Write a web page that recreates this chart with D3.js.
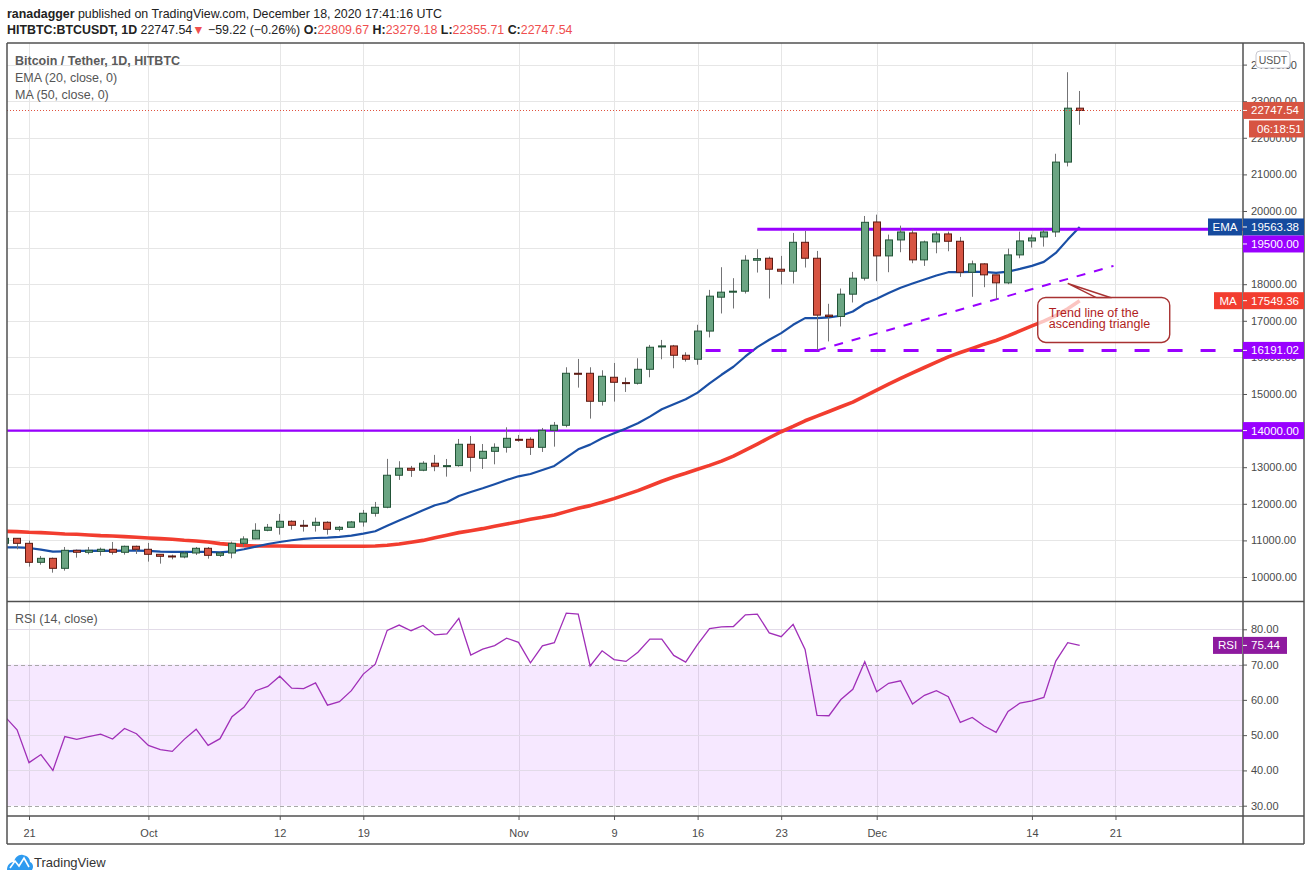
<!doctype html>
<html lang="en">
<head>
<meta charset="UTF-8">
<title>BTCUSDT 1D</title>
<script src="https://d3js.org/d3.v7.min.js"></script>
<style>
  body { margin: 0; background: #fff; }
  text { font-family: "Liberation Sans", Arial, sans-serif; }
</style>
</head>
<body>
<div id="chart-area"></div>

<script>

// daily candles, first one is 2020-09-19
const firstDay = '2020-09-19';

const open = [10920, 11057, 10920, 10401, 10510, 10237, 10729, 10675, 10702, 10757, 10675, 10839,
    10757, 10620, 10574, 10547, 10656, 10784, 10592, 10656, 10920, 11039,
    11276, 11358, 11522, 11413, 11413, 11495, 11303, 11358, 11504, 11741,
    11905, 12780, 12971, 12917, 13108, 13025, 13043, 13626, 13243, 13434, 13543,
    13762, 13762, 13543, 14008, 14145, 15566, 15566, 14801, 15457, 15311,
    15293, 15675, 16286, 16313, 16058, 15949, 16719, 17645, 17782, 17809,
    18655, 18709, 18409, 18355, 19145, 18709, 17155, 17118, 17727, 18164,
    19700, 18773, 19209, 19400, 18664, 19155, 19373, 19173, 18327, 18555,
    18255, 18036, 18800, 19182, 19291, 19427, 21336, 22809.67];

const high = [11110, 11065, 10994, 10574, 10530, 10820, 10750, 10820, 10802, 10957, 10857, 10857,
    10930, 10620, 10610, 10693, 10820, 10820, 10684, 10966, 11112, 11468,
    11449, 11723, 11549, 11558, 11622, 11522, 11394, 11531, 11832, 12051,
    13227, 13163, 13035, 13163, 13336, 13225, 13771, 13853, 13634, 13652, 14090,
    13880, 13816, 14072, 14236, 15730, 15958, 15730, 15648, 15848, 15448,
    15976, 16341, 16477, 16341, 16140, 16891, 17845, 18464, 18164, 18791,
    18955, 18755, 18773, 19400, 19454, 18909, 17464, 17882, 18336, 19864,
    19900, 19355, 19600, 19509, 19191, 19436, 19436, 19291, 18645, 18573,
    18255, 18973, 19436, 19355, 19500, 21564, 23791, 23279.18];

const low = [10880, 10757, 10283, 10337, 10118, 10173, 10529, 10620, 10583, 10611, 10611, 10629,
    10420, 10365, 10483, 10510, 10602, 10501, 10547, 10510, 10820, 11030,
    11249, 11158, 11294, 11240, 11240, 11158, 11249, 11358, 11376, 11650,
    11878, 12653, 12735, 12890, 12890, 12742, 13015, 12879, 12952, 13079, 13398,
    13698, 13334, 13416, 13561, 14090, 15174, 14327, 14683, 14792, 15056,
    15257, 15457, 15949, 15703, 15885, 15800, 16546, 17200, 17336, 17745,
    18318, 17609, 17991, 18018, 18455, 16191, 16437, 16845, 17500, 18100,
    18082, 18327, 18873, 18573, 18500, 18845, 18900, 18200, 17655, 17918,
    17582, 18000, 18709, 19000, 19027, 19291, 21218, 22355.71];

const close = [11057, 10920, 10401, 10510, 10237, 10729, 10675, 10729, 10757, 10675, 10839, 10757,
    10620, 10565, 10547, 10656, 10784, 10592, 10656, 10920, 11039, 11276,
    11358, 11522, 11413, 11404, 11495, 11303, 11358, 11504, 11741, 11905,
    12780, 12971, 12917, 13108, 13026, 13043, 13626, 13270, 13434, 13543, 13789,
    13735, 13543, 14008, 14145, 15566, 15557, 14801, 15484, 15320, 15293,
    15675, 16277, 16313, 16058, 15949, 16719, 17673, 17782, 17809, 18655,
    18700, 18409, 18355, 19145, 18709, 17155, 17118, 17727, 18164, 19691,
    18773, 19209, 19427, 18664, 19155, 19373, 19173, 18327, 18555, 18255,
    18036, 18800, 19182, 19264, 19427, 21336, 22809, 22747.54];

const ema20 = [10811, 10811, 10793, 10747, 10693, 10702, 10711, 10711, 10720, 10711, 10720, 10720,
    10711, 10693, 10684, 10684, 10684, 10684, 10675, 10702, 10757, 10829,
    10902, 10957, 11003, 11039, 11066, 11076, 11094, 11130, 11185, 11249,
    11400, 11545, 11680, 11822, 11960, 12041, 12214, 12323, 12423, 12533, 12651,
    12751, 12815, 12924, 13034, 13260, 13489, 13617, 13790, 13926, 14054,
    14200, 14382, 14582, 14719, 14856, 15038, 15290, 15525, 15745, 16025,
    16282, 16482, 16664, 16891, 17073, 17073, 17091, 17137, 17255, 17465,
    17605, 17760, 17905, 18018, 18127, 18236, 18327, 18327, 18336, 18336,
    18309, 18345, 18418, 18500, 18609, 18855, 19218, 19563.38];

const ma50 = [11249, 11240, 11221, 11212, 11194, 11176, 11167, 11148, 11130, 11121, 11103, 11085,
    11066, 11048, 11030, 11003, 10984, 10957, 10912, 10884, 10857, 10848,
    10848, 10845, 10842, 10840, 10839, 10839, 10839, 10839, 10839, 10848,
    10866, 10902, 10948, 11000, 11070, 11140, 11212, 11266, 11321, 11385, 11448,
    11512, 11576, 11631, 11694, 11786, 11877, 11950, 12041, 12141, 12250,
    12359, 12487, 12615, 12733, 12833, 12942, 13050, 13167, 13303, 13467,
    13631, 13804, 13968, 14113, 14268, 14395, 14523, 14650, 14778, 14941,
    15105, 15269, 15424, 15578, 15724, 15870, 16015, 16133, 16243, 16361,
    16461, 16588, 16725, 16861, 16989, 17140, 17330, 17549.36];

const rsi14 = [55.2, 51.5, 42.2, 44.5, 40.0, 49.6, 48.8, 49.6, 50.3, 48.9, 51.9, 50.4,
    47.1, 45.9, 45.4, 48.8, 51.7, 47.1, 49.0, 55.2, 57.9, 62.6,
    63.8, 66.7, 63.3, 63.2, 64.8, 58.5, 59.5, 62.6, 67.3, 70.1,
    79.7, 81.2, 79.6, 81.1, 78.4, 78.7, 83.1, 72.7, 74.4, 75.4, 77.5,
    76.3, 70.5, 75.3, 76.2, 84.6, 84.3, 69.6, 73.9, 71.4, 70.9,
    73.5, 77.2, 77.2, 72.6, 70.7, 75.7, 80.2, 80.7, 80.8, 84.1,
    84.3, 79.0, 77.9, 81.4, 74.3, 55.6, 55.5, 60.1, 63.0, 70.8,
    62.3, 64.7, 65.4, 58.8, 61.3, 62.6, 60.9, 53.6, 55.0, 52.6,
    50.8, 56.7, 59.1, 59.7, 60.7, 71.0, 76.2, 75.44];

const timeTicks = ['2020-09-21', '2020-10-01', '2020-10-12', '2020-10-19', '2020-11-01', '2020-11-09',
    '2020-11-16', '2020-11-23', '2020-12-01', '2020-12-14', '2020-12-21'];
const timeTickLabels = ['21', 'Oct', '12', '19', 'Nov', '9', '16', '23', 'Dec', '14', '21'];
const priceTicks = [10000, 11000, 12000, 13000, 14000, 15000, 16000, 17000, 18000, 19000,
    20000, 21000, 22000, 23000, 24000];
const rsiTicks = [30, 40, 50, 60, 70, 80];

// drawn levels
const resistance = 19500;
const resistanceFrom = '2020-11-21';
const support = 16191.02;
const supportFrom = '2020-11-16T16:00Z';
const oldTop = 14000;
const trendFrom = ['2020-11-26', 16191.02];
const trendTo = ['2020-12-20T20:00Z', 18500];
const lastPrice = 22747.54;
const noteAt = ['2020-12-17', 18020];

const W = 1311, H = 881;
const L = 7, R = 1243, AX = 1304;
const mainTop = 43, mainBot = 601, rsiTop = 602, rsiBot = 816, timeBot = 844;
const FONT = '"Liberation Sans", Arial, sans-serif';
const UP = '#6ba583', UP_B = '#225437', DN = '#d75442', DN_B = '#5b1a13', WICK = '#737375';
const PURPLE = '#9900ff';

const parse = s => new Date(s.length === 10 ? s + 'T00:00Z' : s);
const start = parse(firstDay);
const dates = open.map((_, i) => d3.utcDay.offset(start, i));

const x = d3.scaleUtc()
    .domain([parse('2020-09-19T03:46Z'), parse('2020-12-31T16:19Z')])
    .range([L, R]);
const y = d3.scaleLinear().domain([9344, 24590]).range([mainBot, mainTop]);
const yr = d3.scaleLinear().domain([27.08, 87.74]).range([rsiBot, rsiTop]);

const svg = d3.select('#chart-area')
    .append('svg')
    .attr('width', W)
    .attr('height', H)
    .style('display', 'block');

const defs = svg.append('defs');
defs.append('clipPath').attr('id', 'clip-main')
    .append('rect').attr('x', L).attr('y', mainTop).attr('width', R - L).attr('height', mainBot - mainTop);
defs.append('clipPath').attr('id', 'clip-rsi')
    .append('rect').attr('x', L).attr('y', rsiTop).attr('width', R - L).attr('height', rsiBot - rsiTop);

const px = v => Math.round(v) + 0.5;

// grid
const grid = svg.append('g').attr('stroke', '#e6e6e6').attr('stroke-width', 1);
grid.selectAll('.gh').data(priceTicks).join('line')
    .attr('x1', L).attr('x2', R)
    .attr('y1', d => px(y(d))).attr('y2', d => px(y(d)));
grid.selectAll('.gv').data(timeTicks).join('line')
    .attr('x1', d => px(x(parse(d)))).attr('x2', d => px(x(parse(d))))
    .attr('y1', mainTop).attr('y2', rsiBot);

// RSI pane background band + grid
const rsiG = svg.append('g').attr('clip-path', 'url(#clip-rsi)');
rsiG.append('rect')
    .attr('x', L).attr('width', R - L)
    .attr('y', yr(70)).attr('height', yr(30) - yr(70))
    .attr('fill', PURPLE).attr('fill-opacity', 0.09);
rsiG.selectAll('.rg').data(rsiTicks).join('line')
    .attr('x1', L).attr('x2', R)
    .attr('y1', d => px(yr(d))).attr('y2', d => px(yr(d)))
    .attr('stroke', d => (d === 70 || d === 30) ? '#a8a8a8' : '#e2dbe8')
    .attr('stroke-dasharray', d => (d === 70 || d === 30) ? '4,3' : null);
rsiG.append('path')
    .datum(rsi14)
    .attr('fill', 'none')
    .attr('stroke', '#a02fb8')
    .attr('stroke-width', 1.3)
    .attr('d', d3.line().x((d, i) => x(dates[i])).y(d => yr(d)));

// main pane
const main = svg.append('g').attr('clip-path', 'url(#clip-main)');

main.append('line')
    .attr('x1', L).attr('x2', R)
    .attr('y1', y(oldTop)).attr('y2', y(oldTop))
    .attr('stroke', PURPLE).attr('stroke-width', 2.2);

const lineGen = d3.line().x((d, i) => x(dates[i])).y(d => y(d));
main.append('path').datum(ma50)
    .attr('fill', 'none').attr('stroke', '#f23d2f').attr('stroke-width', 3.6)
    .attr('stroke-linejoin', 'round').attr('d', lineGen);
main.append('path').datum(ema20)
    .attr('fill', 'none').attr('stroke', '#1a4fa5').attr('stroke-width', 2.2)
    .attr('stroke-linejoin', 'round').attr('d', lineGen);

main.append('line')
    .attr('x1', x(parse(resistanceFrom))).attr('x2', R)
    .attr('y1', y(resistance)).attr('y2', y(resistance))
    .attr('stroke', PURPLE).attr('stroke-width', 3);
main.append('line')
    .attr('x1', x(parse(supportFrom))).attr('x2', R)
    .attr('y1', y(support)).attr('y2', y(support))
    .attr('stroke', PURPLE).attr('stroke-width', 3)
    .attr('stroke-dasharray', '15,18');
main.append('line')
    .attr('x1', x(parse(trendFrom[0]))).attr('y1', y(trendFrom[1]))
    .attr('x2', x(parse(trendTo[0]))).attr('y2', y(trendTo[1]))
    .attr('stroke', PURPLE).attr('stroke-width', 2)
    .attr('stroke-dasharray', '9,9');

// candles
const bw = 8;
const candles = dates.map((d, i) => ({ d, o: open[i], h: high[i], l: low[i], c: close[i] }));
const cg = main.append('g');
cg.selectAll('.wick').data(candles).join('line')
    .attr('x1', c => px(x(c.d) - 0.5)).attr('x2', c => px(x(c.d) - 0.5))
    .attr('y1', c => y(c.h)).attr('y2', c => y(c.l))
    .attr('stroke', WICK).attr('stroke-width', 1);
cg.selectAll('.body').data(candles).join('rect')
    .attr('x', c => px(x(c.d) - bw / 2))
    .attr('width', bw - 1)
    .attr('y', c => y(Math.max(c.o, c.c)))
    .attr('height', c => Math.max(1, Math.abs(y(c.o) - y(c.c))))
    .attr('fill', c => c.c >= c.o ? UP : DN)
    .attr('stroke', c => c.c >= c.o ? UP_B : DN_B)
    .attr('stroke-width', 1);

main.append('line')
    .attr('x1', L).attr('x2', R)
    .attr('y1', px(y(lastPrice))).attr('y2', px(y(lastPrice)))
    .attr('stroke', '#e0533f').attr('stroke-dasharray', '1,2');

// callout
const tx = x(parse(noteAt[0])), ty = y(noteAt[1]);
const note = main.append('g');
note.append('path')
    .attr('d', `M${tx + 29},${ty + 14.5} L${tx},${ty} L${tx + 44},${ty + 14.5} Z`)
    .attr('fill', '#fff').attr('fill-opacity', 0.7)
    .attr('stroke', '#a83232').attr('stroke-width', 1.4);
note.append('rect')
    .attr('x', tx - 30).attr('y', ty + 14).attr('width', 132).attr('height', 45).attr('rx', 8)
    .attr('fill', '#fff').attr('fill-opacity', 0.7)
    .attr('stroke', '#a83232').attr('stroke-width', 1.4);
note.append('text')
    .attr('x', tx - 19).attr('y', ty + 33.5)
    .attr('fill', '#b01e1e').attr('font-size', 12.5)
    .text('Trend line of the');
note.append('text')
    .attr('x', tx - 19).attr('y', ty + 45)
    .attr('fill', '#b01e1e').attr('font-size', 12.5)
    .text('ascending triangle');

// axes
function styleAxis(g, size) {
    g.attr('font-family', FONT).attr('font-size', size);
    g.select('.domain').remove();
    g.selectAll('line').attr('stroke', '#555');
    g.selectAll('text').attr('fill', '#4a4a4a');
}
svg.append('g').attr('transform', `translate(${R},0)`)
    .call(d3.axisRight(y).tickValues(priceTicks).tickFormat(d3.format('.2f')).tickSize(4).tickPadding(4))
    .call(g => styleAxis(g, 11))
    // 19000 sits fully under the 19500 tag
    .call(g => g.selectAll('.tick').filter(d => d === 19000).select('text').remove());
svg.append('g').attr('transform', `translate(${R},0)`)
    .call(d3.axisRight(yr).tickValues(rsiTicks).tickFormat(d3.format('.2f')).tickSize(4).tickPadding(4))
    .call(g => styleAxis(g, 11));
svg.append('g').attr('transform', `translate(0,${rsiBot})`)
    .call(d3.axisBottom(x).tickValues(timeTicks.map(parse))
        .tickFormat((d, i) => timeTickLabels[i]).tickSize(4).tickPadding(9))
    .call(g => styleAxis(g, 11));

// frame
const frame = svg.append('g').attr('stroke', '#505050').attr('stroke-width', 1.5);
[[L, mainTop, AX, mainTop], [L, timeBot, AX, timeBot], [L, mainTop, L, timeBot],
 [AX, mainTop, AX, timeBot], [R, mainTop, R, timeBot],
 [L, mainBot + 0.5, AX, mainBot + 0.5], [L, rsiBot, AX, rsiBot]]
    .forEach(s => frame.append('line').attr('x1', s[0]).attr('y1', s[1]).attr('x2', s[2]).attr('y2', s[3]));

// price tags on the right axis
function tag(yc, label, fill, x0 = R, x1 = AX) {
    svg.append('rect').attr('x', x0).attr('y', yc - 8.5).attr('width', x1 - x0).attr('height', 17)
        .attr('fill', fill);
    svg.append('text').attr('x', x0 + 8).attr('y', yc + 4).attr('fill', '#fff')
        .attr('font-size', 11.5).attr('font-family', FONT).text(label);
    if (x0 === R) {
        svg.append('line').attr('x1', R).attr('x2', R + 4).attr('y1', yc).attr('y2', yc)
            .attr('stroke', '#fff');
    }
}
function nameTag(yc, label, fill, x0) {
    svg.append('rect').attr('x', x0).attr('y', yc - 8.5).attr('width', R - x0 - 1).attr('height', 17)
        .attr('fill', fill);
    svg.append('text').attr('x', (x0 + R - 1) / 2).attr('y', yc + 4).attr('text-anchor', 'middle')
        .attr('fill', '#fff').attr('font-size', 11.5).attr('font-family', FONT).text(label);
}
const f2 = d3.format('.2f');
const emaLast = ema20[ema20.length - 1];
const maLast = ma50[ma50.length - 1];
const rsiLast = rsi14[rsi14.length - 1];

tag(y(lastPrice), f2(lastPrice), DN);
tag(y(lastPrice) + 18.5, '06:18:51', DN, R + 6);
tag(y(emaLast), f2(emaLast), '#154a9e');
nameTag(y(emaLast), 'EMA', '#154a9e', 1208);
tag(Math.max(y(resistance), y(emaLast) + 17), f2(resistance), PURPLE);
tag(y(maLast), f2(maLast), '#f23d2f');
nameTag(y(maLast), 'MA', '#f23d2f', 1214);
tag(y(support), f2(support), PURPLE);
tag(y(oldTop), f2(oldTop), PURPLE);
tag(yr(rsiLast), f2(rsiLast), '#8e1a9f', R, 1287);
nameTag(yr(rsiLast), 'RSI', '#8e1a9f', 1213);

svg.append('rect').attr('x', 1256).attr('y', 51).attr('width', 34).attr('height', 17).attr('rx', 4)
    .attr('fill', '#fff').attr('stroke', '#c8c8d0');
svg.append('text').attr('x', 1273).attr('y', 63.5).attr('text-anchor', 'middle')
    .attr('font-size', 10.5).attr('fill', '#555').text('USDT');

// legends
const lg = svg.append('g').attr('fill', '#555').attr('font-size', 12.5);
lg.append('text').attr('x', 15).attr('y', 64.5).attr('font-weight', 'bold').attr('fill', '#5a5a5a')
    .text('Bitcoin / Tether, 1D, HITBTC');
lg.append('text').attr('x', 15).attr('y', 81.5).text('EMA (20, close, 0)');
lg.append('text').attr('x', 15).attr('y', 98.5).text('MA (50, close, 0)');
lg.append('text').attr('x', 15).attr('y', 622.5).text('RSI (14, close)');

// header
const RED = '#ef4f4f';
const h1 = svg.append('text').attr('x', 7).attr('y', 17.5).attr('font-size', 12.4).attr('fill', '#222');
h1.append('tspan').attr('font-weight', 'bold').text('ranadagger');
h1.append('tspan').text(' published on TradingView.com, December 18, 2020 17:41:16 UTC');

const h2 = svg.append('text').attr('x', 7).attr('y', 34).attr('font-size', 12.4).attr('fill', '#222');
h2.append('tspan').attr('font-weight', 'bold').text('HITBTC:BTCUSDT, 1D');
h2.append('tspan').text(' 22747.54');
h2.append('tspan').attr('fill', RED).text('▼');
h2.append('tspan').text(' −59.22 (−0.26%) ');
[['O:', '22809.67'], ['H:', '23279.18'], ['L:', '22355.71'], ['C:', '22747.54']].forEach((p, i) => {
    h2.append('tspan').attr('font-weight', 'bold').text((i ? ' ' : '') + p[0]);
    h2.append('tspan').attr('fill', RED).text(p[1]);
});

// footer logo
const logo = svg.append('g');
logo.append('path')
    .attr('d', 'M7,870 C7,865 10,862 14,862 C15,857 19,854 23,855 C28,856 30,859 30,862 C33,863 34,867 32,870 Z')
    .attr('fill', '#2e9bf0');
logo.append('path')
    .attr('d', 'M10,868 L15,861 L19,866 L24,858 L29,867')
    .attr('fill', 'none').attr('stroke', '#fff').attr('stroke-width', 1.6);
svg.append('text').attr('x', 34).attr('y', 866.5).attr('font-size', 13).attr('fill', '#333')
    .text('TradingView');

</script>

</body>
</html>
